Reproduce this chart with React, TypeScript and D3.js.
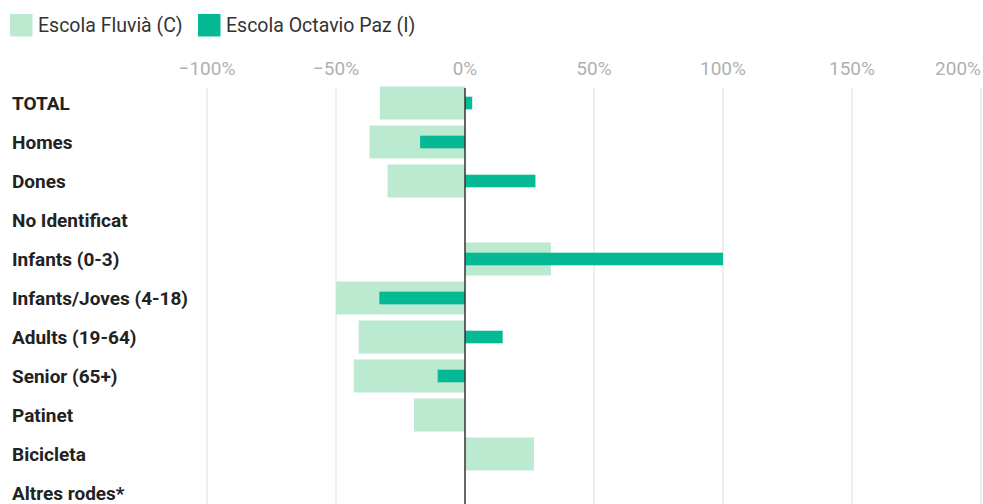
import React from "react";
import * as d3 from "d3";

const categories = [
  "TOTAL",
  "Homes",
  "Dones",
  "No Identificat",
  "Infants (0-3)",
  "Infants/Joves (4-18)",
  "Adults (19-64)",
  "Senior (65+)",
  "Patinet",
  "Bicicleta",
  "Altres rodes*",
];
const fluvia: (number | null)[] = [-0.33, -0.37, -0.3, null, 0.333, -0.5, -0.412, -0.431, -0.198, 0.267, null];
const octavio: (number | null)[] = [0.028, -0.174, 0.273, null, 1.0, -0.332, 0.146, -0.106, null, null, null];
const ticks = [-1, -0.5, 0, 0.5, 1, 1.5, 2];
const seriesNames = ["Escola Fluvià (C)", "Escola Octavio Paz (I)"];
const colors = ["#bbead1", "#06b995"];

export default function App() {
  const W = 983, H = 504;
  const x = d3.scaleLinear().domain([-1, 2]).range([207, 981]);
  const y = d3.scaleBand<string>().domain(categories).range([83.5, 83.5 + 39 * categories.length]).padding(0);
  const step = y.step();
  const lightH = 33;
  const darkH = 12.6;
  const font = "Roboto, 'Noto Sans', sans-serif";
  const fmt = (t: number) => (t < 0 ? "\u2212" + d3.format(".0%")(-t) : d3.format(".0%")(t));
  return (
    <svg width={W} height={H} style={{ position: "absolute", left: 0, top: 0, background: "#fff" }}>
      {/* legend */}
      <g fontFamily={font} fontSize={19.5} fill="#333">
        <rect x={10} y={14} width={22.5} height={22.5} fill={colors[0]} />
        <text x={38} y={32}>{seriesNames[0]}</text>
        <rect x={198} y={14} width={22.5} height={22.5} fill={colors[1]} />
        <text x={226} y={32}>{seriesNames[1]}</text>
      </g>
      {/* grid + ticks */}
      <g fontFamily={font} fontSize={19} fill="#b0b0b0">
        {ticks.map((t, i) => (
          <g key={t}>
            {t !== 0 && (
              <line x1={x(t)} x2={x(t)} y1={88} y2={H} stroke="#e8e8e8" strokeWidth={1.5} />
            )}
            <text
              x={i === ticks.length - 1 ? W - 2 : x(t)}
              y={75}
              textAnchor={i === ticks.length - 1 ? "end" : "middle"}
            >
              {fmt(t)}
            </text>
          </g>
        ))}
      </g>
      {/* bars */}
      {categories.map((c, i) => {
        const cy = (y(c) as number) + step / 2;
        const a = fluvia[i];
        const b = octavio[i];
        return (
          <g key={c}>
            {a !== null && (
              <rect x={Math.min(x(0), x(a))} width={Math.abs(x(a) - x(0))} y={cy - lightH / 2} height={lightH} fill={colors[0]} />
            )}
            {b !== null && (
              <rect x={Math.min(x(0), x(b))} width={Math.abs(x(b) - x(0))} y={cy - darkH / 2} height={darkH} fill={colors[1]} />
            )}
          </g>
        );
      })}
      <line x1={x(0)} x2={x(0)} y1={88} y2={H} stroke="#333" strokeWidth={1.5} />
      {/* category labels */}
      <g fontFamily={font} fontSize={19} fontWeight="bold" fill="#222">
        {categories.map((c) => (
          <text key={c} x={12} y={(y(c) as number) + step / 2} dy="0.35em">
            {c}
          </text>
        ))}
      </g>
    </svg>
  );
}
